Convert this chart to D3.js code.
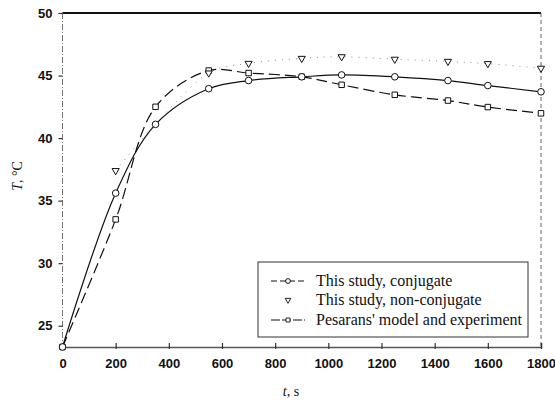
<!DOCTYPE html>
<html>
<head>
<meta charset="utf-8">
<script src="https://cdn.jsdelivr.net/npm/d3@7"></script>
<style>
  html, body { margin: 0; padding: 0; background: #fff; }
  svg { display: block; }
</style>
</head>
<body>
<svg id="chart" width="555" height="404"></svg>
<script>
// Time (s) and temperature (°C) series
const timeConj = [0, 200, 350, 550, 700, 900, 1050, 1250, 1450, 1600, 1800];
const tempConj = [23.3, 35.6, 41.1, 43.95, 44.6, 44.9, 45.05, 44.9, 44.6, 44.2, 43.7];

const timeNonConj = [200, 550, 700, 900, 1050, 1250, 1450, 1600, 1800];
const tempNonConj = [37.4, 45.2, 45.97, 46.37, 46.5, 46.3, 46.13, 45.95, 45.58];

const timePesaran = [0, 200, 350, 550, 700, 900, 1050, 1250, 1450, 1600, 1800];
const tempPesaran = [23.3, 33.5, 42.5, 45.4, 45.2, 44.9, 44.26, 43.46, 43.0, 42.48, 41.98];

const xTicks = [0, 200, 400, 600, 800, 1000, 1200, 1400, 1600, 1800];
const yTicks = [25, 30, 35, 40, 45, 50];
const legendLabels = ["This study, conjugate", "This study, non-conjugate", "Pesarans' model and experiment"];

const svg = d3.select("#chart");
const plotL = 62.5, plotR = 541, plotT = 13, plotB = 347;

const x = d3.scaleLinear().domain([0, 1800]).range([plotL, plotR]);
const y = d3.scaleLinear().domain([23.3, 50]).range([plotB, plotT]);

const zip = (a, b) => a.map((v, i) => [v, b[i]]);
const conj = zip(timeConj, tempConj);
const nonConj = zip(timeNonConj, tempNonConj);
const pesaran = zip(timePesaran, tempPesaran);

// Frame: heavy top edge, light dash-dot left, dashed right, grey bottom
svg.append("line").attr("x1", plotL).attr("x2", plotR).attr("y1", plotT).attr("y2", plotT)
  .attr("stroke", "#111").attr("stroke-width", 2);
svg.append("line").attr("x1", plotL).attr("x2", plotL).attr("y1", plotT).attr("y2", plotB)
  .attr("stroke", "#777").attr("stroke-width", 1).attr("stroke-dasharray", "6,2,1,2");
svg.append("line").attr("x1", plotR).attr("x2", plotR).attr("y1", plotT).attr("y2", plotB)
  .attr("stroke", "#666").attr("stroke-width", 1).attr("stroke-dasharray", "4,3");

// Bottom axis
const xAxis = svg.append("g").attr("transform", `translate(0,${plotB})`)
  .call(d3.axisBottom(x).tickValues(xTicks).tickSize(-4).tickPadding(12).tickFormat(d3.format("d")));
xAxis.select(".domain").attr("stroke", "#555").attr("stroke-width", 1.5);
xAxis.selectAll(".tick line").attr("stroke", "#333").attr("stroke-width", 1.2).attr("y1", 2);
xAxis.selectAll("text").attr("font-family", "Liberation Sans, Arial, sans-serif")
  .attr("font-size", 13).attr("font-weight", "bold").attr("fill", "#111");

// Left axis
const yAxis = svg.append("g").attr("transform", `translate(${plotL},0)`)
  .call(d3.axisLeft(y).tickValues(yTicks).tickSize(4).tickPadding(6));
yAxis.select(".domain").remove();
yAxis.selectAll(".tick line").attr("stroke", "#333").attr("stroke-width", 1.2);
yAxis.selectAll("text").attr("font-family", "Liberation Sans, Arial, sans-serif")
  .attr("font-size", 13).attr("font-weight", "bold").attr("fill", "#111");

// Axis titles
svg.append("text")
  .attr("transform", "translate(22,176) rotate(-90)")
  .attr("text-anchor", "middle")
  .attr("font-family", "Liberation Serif, Times New Roman, serif")
  .attr("font-size", 14).attr("fill", "#111")
  .html('<tspan font-style="italic">T</tspan>, °C');
svg.append("text")
  .attr("x", 291).attr("y", 396)
  .attr("text-anchor", "middle")
  .attr("font-family", "Liberation Serif, Times New Roman, serif")
  .attr("font-size", 14).attr("fill", "#111")
  .html('<tspan font-style="italic">t</tspan>, s');

const curve = d3.line().x(d => x(d[0])).y(d => y(d[1])).curve(d3.curveCatmullRom.alpha(0.5));

// Lines
svg.append("path").attr("d", curve(nonConj)).attr("fill", "none")
  .attr("stroke", "#888").attr("stroke-width", 1).attr("stroke-dasharray", "1,6");
svg.append("path").attr("d", curve(pesaran)).attr("fill", "none")
  .attr("stroke", "#111").attr("stroke-width", 1.2).attr("stroke-dasharray", "11,5");
svg.append("path").attr("d", curve(conj)).attr("fill", "none")
  .attr("stroke", "#111").attr("stroke-width", 1.2);

// Markers
const tri = d3.symbol().type(d3.symbolTriangle).size(22);
const sq = d3.symbol().type(d3.symbolSquare).size(30);

svg.append("g").selectAll("path").data(pesaran).join("path")
  .attr("d", sq).attr("transform", d => `translate(${x(d[0])},${y(d[1])})`)
  .attr("fill", "#fff").attr("stroke", "#111").attr("stroke-width", 1);
svg.append("g").selectAll("path").data(nonConj).join("path")
  .attr("d", tri).attr("transform", d => `translate(${x(d[0])},${y(d[1])}) rotate(180)`)
  .attr("fill", "#fff").attr("stroke", "#111").attr("stroke-width", 1);
svg.append("g").selectAll("circle").data(conj).join("circle")
  .attr("cx", d => x(d[0])).attr("cy", d => y(d[1])).attr("r", 3.3)
  .attr("fill", "#fff").attr("stroke", "#111").attr("stroke-width", 1);

// Legend
const lg = svg.append("g");
lg.append("rect").attr("x", 258).attr("y", 262).attr("width", 270).attr("height", 75)
  .attr("fill", "#fff").attr("stroke", "#333").attr("stroke-width", 1);
const rowY = [286, 305, 325];
const sx0 = 271, sx1 = 305, sxm = 288;

// conjugate sample
lg.append("line").attr("x1", sx0).attr("x2", sx1).attr("y1", rowY[0] - 5).attr("y2", rowY[0] - 5)
  .attr("stroke", "#111").attr("stroke-width", 1).attr("stroke-dasharray", "6,3");
lg.append("circle").attr("cx", sxm).attr("cy", rowY[0] - 5).attr("r", 2.4)
  .attr("fill", "#fff").attr("stroke", "#111");
// non-conjugate sample
lg.append("path").attr("d", d3.symbol().type(d3.symbolTriangle).size(14))
  .attr("transform", `translate(${sxm},${rowY[1] - 5}) rotate(180)`)
  .attr("fill", "#fff").attr("stroke", "#111").attr("stroke-width", 0.9);
// Pesaran sample
lg.append("line").attr("x1", sx0).attr("x2", sx1).attr("y1", rowY[2] - 5).attr("y2", rowY[2] - 5)
  .attr("stroke", "#111").attr("stroke-width", 1).attr("stroke-dasharray", "9,2");
lg.append("path").attr("d", d3.symbol().type(d3.symbolSquare).size(16))
  .attr("transform", `translate(${sxm},${rowY[2] - 5})`)
  .attr("fill", "#fff").attr("stroke", "#111").attr("stroke-width", 0.9);

lg.selectAll("text.lbl").data(legendLabels).join("text").attr("class", "lbl")
  .attr("x", 316).attr("y", (d, i) => rowY[i])
  .attr("font-family", "Liberation Serif, Times New Roman, serif")
  .attr("font-size", 16).attr("fill", "#111")
  .text(d => d);
</script>
</body>
</html>
